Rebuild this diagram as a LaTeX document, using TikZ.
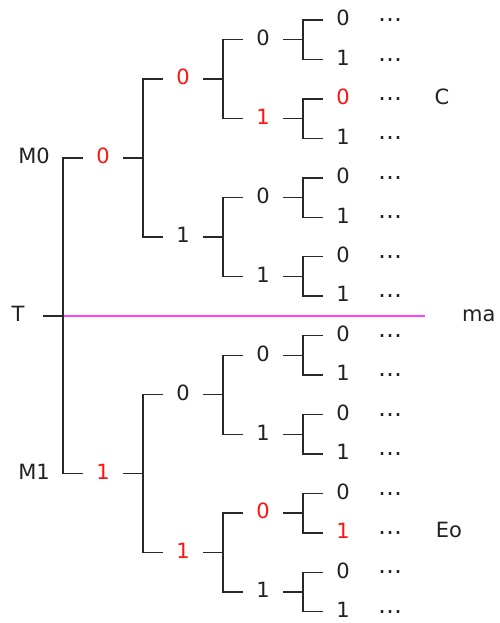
\documentclass[tikz,border=0pt]{standalone}
\usepackage{fontspec}
\setmainfont{DejaVu Sans}
\definecolor{cutpink}{RGB}{255,64,255}
\definecolor{hotred}{RGB}{255,20,20}
\definecolor{ink}{RGB}{34,34,34}
\definecolor{wire}{RGB}{40,40,40}
\begin{document}
\begin{tikzpicture}[x=1pt,y=-1pt,
  lbl/.style={inner sep=0pt, minimum width=40pt, text height=13.4pt, text depth=1.8pt,
              font=\fontsize{21}{21}\selectfont, text=ink},
  hot/.style={lbl, text=hotred},
  tag/.style={lbl, minimum width=0pt},
  dots/.style={inner sep=0pt, anchor=base, yshift=-1.6pt,
               font=\fontsize{24}{24}\selectfont, text=ink},
  edge/.style={draw=wire, line width=1.4pt},
  cut/.style={draw=cutpink, line width=1.4pt}]
\useasboundingbox (0,0) rectangle (499,623);

% root and its branch labels
\node[lbl, minimum width=50pt] (T) at (18,316) {T};
\node[tag] (m0) at (34,157.5) {M0};
\node[tag] (m1) at (34,473.5) {M1};

% level 1
\node[hot] (I0) at (103,158.1) {0};
\node[hot] (I1) at (103,473.7) {1};

% level 2
\foreach \i/\st in {0/hot,1/lbl,2/lbl,3/hot}{
  \pgfmathtruncatemacro\b{mod(\i,2)}
  \node[\st] (J\i) at (183,{79.175+157.8*\i}) {\b};
}

% level 3
\foreach \i/\st in {0/lbl,1/hot,2/lbl,3/lbl,4/lbl,5/lbl,6/hot,7/lbl}{
  \pgfmathtruncatemacro\b{mod(\i,2)}
  \node[\st] (K\i) at (263,{39.725+78.9*\i}) {\b};
}

% leaves with trailing ellipses
\foreach \i/\st in {0/lbl,1/lbl,2/hot,3/lbl,4/lbl,5/lbl,6/lbl,7/lbl,
                    8/lbl,9/lbl,10/lbl,11/lbl,12/lbl,13/hot,14/lbl,15/lbl}{
  \pgfmathtruncatemacro\b{mod(\i,2)}
  \node[\st] (L\i) at (343,{20+39.45*\i}) {\b};
  \node[dots] (D\i) at (390,{20+39.45*\i}) {…};
}

% side notes
\node[tag] (C) at (442,98.5) {C};
\node[tag] (E) at (449,532) {Eo};
\node[tag, anchor=west] (ma) at (462,316) {ma};

% the cut line through the root
\coordinate (fork) at ([xshift=20pt]T.east);
\coordinate (cutend) at (425,316);
\draw[cut] (fork) -- (cutend);

% root connectors
\draw[edge] (T.east) -- (fork);
\draw[edge] (I0.west) -- ++(-20,0) |- (I1.west);

% level 1 -> level 2
\foreach \k in {0,1}{
  \pgfmathtruncatemacro\a{2*\k}
  \pgfmathtruncatemacro\c{2*\k+1}
  \draw[edge] (I\k.east) -- ++(20,0);
  \draw[edge] (J\a.west) -- ++(-20,0) |- (J\c.west);
}

% level 2 -> level 3
\foreach \k in {0,...,3}{
  \pgfmathtruncatemacro\a{2*\k}
  \pgfmathtruncatemacro\c{2*\k+1}
  \draw[edge] (J\k.east) -- ++(20,0);
  \draw[edge] (K\a.west) -- ++(-20,0) |- (K\c.west);
}

% level 3 -> leaves
\foreach \k in {0,...,7}{
  \pgfmathtruncatemacro\a{2*\k}
  \pgfmathtruncatemacro\c{2*\k+1}
  \draw[edge] (K\k.east) -- ++(20,0);
  \draw[edge] (L\a.west) -- ++(-20,0) |- (L\c.west);
}
\end{tikzpicture}
\end{document}
